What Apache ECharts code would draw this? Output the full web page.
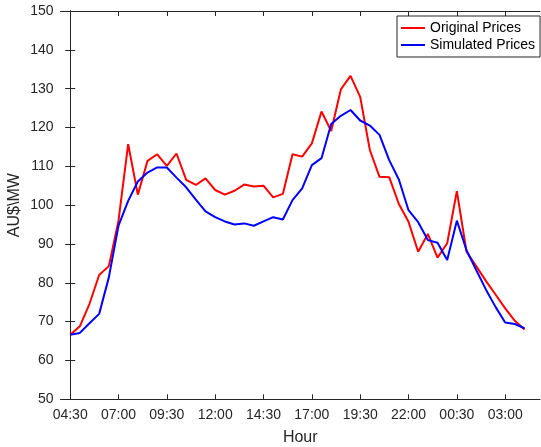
<!DOCTYPE html>
<html>
<head>
<meta charset="utf-8">
<script src="https://cdn.jsdelivr.net/npm/echarts@6/dist/echarts.min.js"></script>
<style>
html,body{margin:0;padding:0;background:#fff;}
#chart{width:541px;height:447px;}
</style>
</head>
<body>
<div id="chart"></div>
<script>
const hours = ['04:30','05:00','05:30','06:00','06:30','07:00','07:30','08:00','08:30','09:00',
  '09:30','10:00','10:30','11:00','11:30','12:00','12:30','13:00','13:30','14:00',
  '14:30','15:00','15:30','16:00','16:30','17:00','17:30','18:00','18:30','19:00',
  '19:30','20:00','20:30','21:00','21:30','22:00','22:30','23:00','23:30','00:00',
  '00:30','01:00','01:30','02:00','02:30','03:00','03:30','04:00'];
const originalPrices = [66.6, 68.8, 74.6, 82.0, 84.3, 96.0, 115.7, 102.7, 111.4, 113.1,
  110.1, 113.3, 106.5, 105.2, 106.9, 103.9, 102.7, 103.7, 105.3, 104.8,
  105.0, 102.0, 102.9, 113.1, 112.5, 115.9, 124.1, 119.1, 129.8, 133.3,
  127.9, 114.2, 107.3, 107.2, 100.3, 95.7, 88.0, 92.6, 86.5, 90.2,
  103.6, 88.0, 84.3, 80.5, 77.0, 73.4, 70.2, 68.0];
const simulatedPrices = [66.6, 67.1, 69.6, 72.0, 81.4, 94.7, 101.1, 106.1, 108.4, 109.7,
  109.7, 107.1, 104.6, 101.4, 98.4, 96.9, 95.8, 95.0, 95.3, 94.7,
  95.8, 96.9, 96.3, 101.3, 104.3, 110.3, 112.1, 120.9, 123.0, 124.5,
  121.8, 120.5, 118.1, 111.6, 106.6, 98.7, 95.6, 91.0, 90.3, 85.9,
  96.0, 88.4, 83.3, 78.3, 73.8, 69.8, 69.4, 68.3];
const xTickLabels = ['04:30','07:00','09:30','12:00','14:30','17:00','19:30','22:00','00:30','03:00'];
const yTicks = [50,60,70,80,90,100,110,120,130,140,150];

const xTickPos = xTickLabels.map(l => hours.indexOf(l));
const FONT = "'Liberation Sans', Arial, Helvetica, sans-serif";
const AX = '#262626';

const chart = echarts.init(document.getElementById('chart'), null, {renderer:'canvas'});
const xBase = {
  type:'value', min:-1, max:48.6,
  axisLine:{show:true, lineStyle:{color:AX, width:1}},
  splitLine:{show:false},
};
chart.setOption({
  animation:false,
  backgroundColor:'#fff',
  grid:{left:60.5, right:1, top:11, bottom:47.7, containLabel:false, outerBoundsMode:'none'},
  legend:{
    orient:'vertical', left:397, top:16,
    padding:[5,5,5,4], itemGap:3, itemWidth:24, itemHeight:2, icon:'rect',
    borderColor:AX, borderWidth:1, backgroundColor:'#fff',
    textStyle:{fontSize:14, color:'#000', fontFamily:FONT},
    data:['Original Prices','Simulated Prices']
  },
  xAxis:[
    Object.assign({}, xBase, {
      position:'bottom',
      name:'Hour', nameLocation:'middle', nameGap:30, nameMoveOverlap:false,
      nameTextStyle:{fontSize:16, color:AX, fontFamily:FONT},
      axisTick:{show:true, inside:true, length:5, customValues:xTickPos, lineStyle:{color:AX}},
      axisLabel:{show:true, customValues:xTickPos, margin:9, fontSize:14, color:AX, fontFamily:FONT,
        formatter:function(v){ return hours[Math.round(v)]; }}
    }),
    Object.assign({}, xBase, {
      position:'top',
      axisTick:{show:true, inside:true, length:5, customValues:xTickPos, lineStyle:{color:AX}},
      axisLabel:{show:false}
    })
  ],
  yAxis:[
    {type:'value', min:yTicks[0], max:yTicks[yTicks.length-1], interval:10, position:'left',
     name:'AU$\\MW', nameLocation:'middle', nameGap:38, nameMoveOverlap:false,
     nameTextStyle:{fontSize:16, color:AX, fontFamily:FONT},
     axisLine:{show:true, lineStyle:{color:AX, width:1}},
     axisTick:{show:true, inside:true, length:5, lineStyle:{color:AX}},
     axisLabel:{margin:7, fontSize:14, color:AX, fontFamily:FONT},
     splitLine:{show:false}},
    {type:'value', min:yTicks[0], max:yTicks[yTicks.length-1], interval:10, position:'right',
     axisLine:{show:true, lineStyle:{color:AX, width:1}},
     axisTick:{show:true, inside:true, length:5, lineStyle:{color:AX}},
     axisLabel:{show:false},
     splitLine:{show:false}}
  ],
  series:[
    {name:'Original Prices', type:'line', xAxisIndex:0, yAxisIndex:0, symbol:'none',
     lineStyle:{color:'#ff0000', width:2}, itemStyle:{color:'#ff0000'},
     data:originalPrices.map((v,i)=>[i,v])},
    {name:'Simulated Prices', type:'line', xAxisIndex:0, yAxisIndex:0, symbol:'none',
     lineStyle:{color:'#0000ff', width:2}, itemStyle:{color:'#0000ff'},
     data:simulatedPrices.map((v,i)=>[i,v])}
  ]
});
</script>
</body>
</html>
